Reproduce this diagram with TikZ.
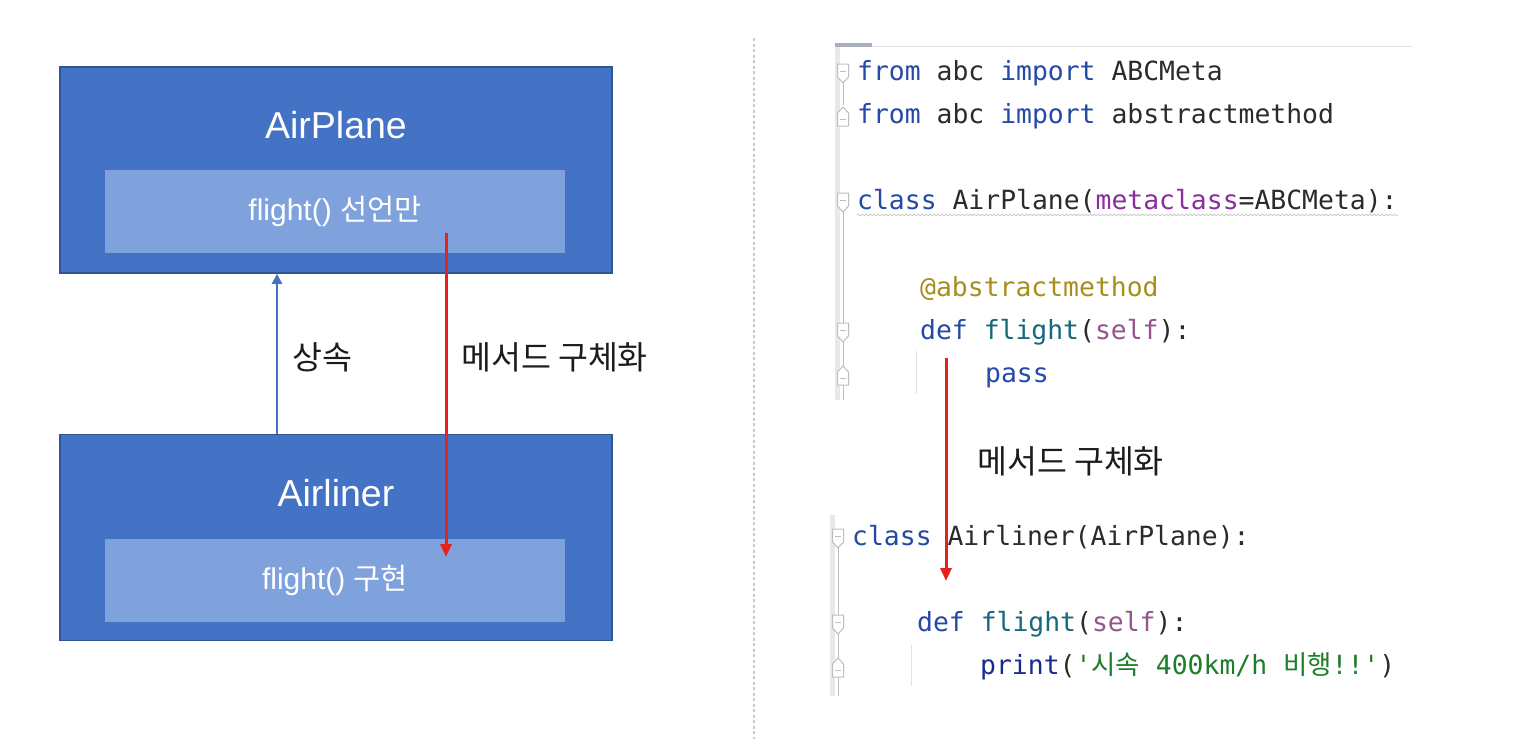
\documentclass[tikz,border=0pt]{standalone}
\usepackage{fontspec}
\setmainfont{Liberation Sans}
\setmonofont{DejaVu Sans Mono}
\newfontfamily\kr{Noto Sans CJK KR}
\usetikzlibrary{arrows.meta,decorations.pathmorphing}
\definecolor{boxout}{HTML}{4472C4}
\definecolor{boxedge}{HTML}{2F5597}
\definecolor{boxin}{HTML}{7FA2DC}
\definecolor{redarr}{HTML}{E5231B}
\definecolor{bluearr}{HTML}{4472C4}
\definecolor{lblc}{HTML}{1C1C1C}
\definecolor{kwc}{HTML}{2449A6}
\definecolor{txtc}{HTML}{2B2B2B}
\definecolor{kwargc}{HTML}{8A2E9C}
\definecolor{selfc}{HTML}{94558D}
\definecolor{fnc}{HTML}{16687C}
\definecolor{decoc}{HTML}{A68F1E}
\definecolor{strc}{HTML}{1E7D2A}
\definecolor{bltnc}{HTML}{1A2A8C}
\definecolor{gutc}{HTML}{E8E8E8}
\definecolor{foldc}{HTML}{BEBEBE}
\definecolor{sepc}{HTML}{C5CAD6}
\definecolor{topbar}{HTML}{A9AFBD}
\definecolor{topline}{HTML}{E2E2E2}
\newcommand\ckw[1]{\textcolor{kwc}{#1}}
\newcommand\cfn[1]{\textcolor{fnc}{#1}}
\newcommand\cself[1]{\textcolor{selfc}{#1}}
\newcommand\foldopen[2]{%
  \draw[foldmark] (#1-5.5,#2-9) -- (#1+5.5,#2-9) -- (#1+5.5,#2+4) -- (#1,#2+10) -- (#1-5.5,#2+4) -- cycle;
  \draw[foldc, line width=0.9pt] (#1-3,#2-2) -- (#1+3,#2-2);}
\newcommand\foldclose[2]{%
  \draw[foldmark] (#1-5.5,#2+10) -- (#1+5.5,#2+10) -- (#1+5.5,#2-3) -- (#1,#2-9) -- (#1-5.5,#2-3) -- cycle;
  \draw[foldc, line width=0.9pt] (#1-3,#2+3) -- (#1+3,#2+3);}
\begin{document}
\begin{tikzpicture}[x=1pt,y=-1pt,
  outer/.style={draw=boxedge, line width=1.6pt, fill=boxout, minimum width=552pt, minimum height=206pt, inner sep=0pt},
  inner/.style={fill=boxin, minimum width=460pt, minimum height=83pt, inner sep=0pt, text=white, font=\fontsize{30}{35}\selectfont},
  title/.style={text=white, inner sep=0pt, font=\fontsize{37.5}{42}\selectfont},
  lbl/.style={text=lblc, inner sep=0pt, font=\kr\fontsize{32.5}{36}\selectfont},
  code/.style={anchor=base west, inner sep=0pt, text=txtc, font=\fontsize{26.4}{30}\ttfamily},
  inh/.style={draw=bluearr, line width=2.4pt, -{Triangle[width=10pt,length=10pt]}},
  impl/.style={draw=redarr, line width=3pt, -{Triangle[width=11pt,length=13pt]}},
  sepline/.style={draw=sepc, line width=1.4pt, dash pattern=on 3pt off 2.5pt},
  foldmark/.style={draw=foldc, fill=white, line width=1pt},
  guide/.style={draw=topline, line width=1pt},
]
\useasboundingbox (0,0) rectangle (1535,739);
\fill[white] (0,0) rectangle (1535,739);

% ---------- left: class boxes ----------
\node[outer] (ap) at (336,170) {};
\node[inner] (apm) at (335,211.5) {flight() {\kr\fontsize{29.5}{34}\selectfont 선언만}};
\node[title] (apt) at (336,125) {AirPlane};

\node[outer] (al) at (336,537.5) {};
\node[inner] (alm) at (335,580) {flight() {\kr\fontsize{29.5}{34}\selectfont 구현}};
\node[title] (alt) at (336,493) {Airliner};

\coordinate (bx) at (277,0);
\draw[inh] (al.north -| bx) -- (ap.south -| bx);
\node[lbl] (inhl) at (322,357) {상속};

\coordinate (r1s) at (446,233);
\coordinate (r1e) at (446,557);
\draw[impl] (r1s) -- (r1e);
\node[lbl, anchor=west] (impll) at (461,357) {메서드 구체화};

% ---------- separator ----------
\coordinate (dtop) at (754,38);
\coordinate (dbot) at (754,739);
\draw[sepline] (dtop) -- (dbot);

% ---------- right: code editor ----------
\fill[gutc] (835,47) rectangle (840,400);
\fill[gutc] (830,515) rectangle (835,696);
\draw[topline, line width=1.5pt] (835,46.5) -- (1412,46.5);
\draw[topbar, line width=4pt] (835,44.5) -- (872,44.5);

% fold connectors
\draw[foldc, line width=0.8pt] (843,83) -- (843,105);
\draw[foldc, line width=0.8pt] (843,212) -- (843,400);
\draw[foldc, line width=0.8pt] (838,548) -- (838,696);
% fold markers
\foldopen{843}{73}
\foldclose{843}{116}
\foldopen{843}{202}
\foldopen{843}{332}
\foldclose{843}{375}
\foldopen{838}{538}
\foldopen{838}{624}
\foldclose{838}{667}

% indent guides
\draw[guide] (916,351) -- (916,394);
\draw[guide] (911,645) -- (911,686);

% wavy underline
\draw[draw=gray!45, line width=0.7pt, decorate, decoration={snake, amplitude=0.9pt, segment length=4pt}] (857,215) -- (1398,215);

\node[code] (c1) at (857,80) {\ckw{from} abc \ckw{import} ABCMeta};
\node[code] (c2) at (857,123) {\ckw{from} abc \ckw{import} abstractmethod};
\node[code] (c3) at (857,209) {\ckw{class} AirPlane(\textcolor{kwargc}{metaclass}=ABCMeta):};
\node[code] (c4) at (920,296) {\textcolor{decoc}{@abstractmethod}};
\node[code] (c5) at (920,339) {\ckw{def} \cfn{flight}(\cself{self}):};
\node[code] (c6) at (985,382) {\ckw{pass}};
\node[code] (c7) at (852,545) {\ckw{class} Airliner(AirPlane):};
\node[code] (c8) at (917,631) {\ckw{def} \cfn{flight}(\cself{self}):};
\node[code] (c9) at (980,674) {\textcolor{bltnc}{print}(\textcolor{strc}{'{\kr 시속} 400km/h {\kr 비행}!!'})};

\coordinate (r2s) at (946,358);
\coordinate (r2e) at (946,581);
\draw[impl] (r2s) -- (r2e);
\node[lbl, anchor=west] (impl2) at (977,461) {메서드 구체화};
\end{tikzpicture}
\end{document}
